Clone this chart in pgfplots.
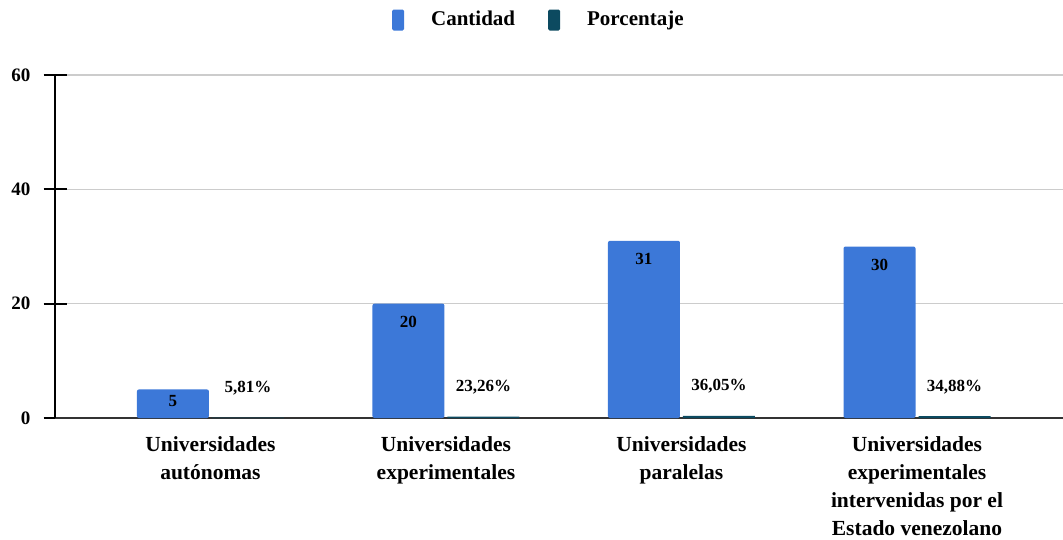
\documentclass[border=0pt]{standalone}
\usepackage{fontspec}
\setmainfont{Liberation Serif}
\usepackage{pgfplots}
\pgfplotsset{compat=1.18}
\definecolor{cant}{HTML}{3C78D8}
\definecolor{porc}{HTML}{0C4A60}
\definecolor{gridc}{HTML}{CCCCCC}
\definecolor{zeroc}{HTML}{333333}
\begin{document}
\begin{tikzpicture}
\path[use as bounding box] (0,0) rectangle (1063pt,539pt);
\begin{axis}[
  at={(55pt,121pt)}, anchor=south west,
  scale only axis, width=1008pt, height=343pt,
  xmin=-0.66, xmax=3.62, ymin=0, ymax=60,
  ytick={0,20,40,60},
  xtick={0,1,2,3},
  xticklabels={{Universidades\\autónomas},{Universidades\\experimentales},{Universidades\\paralelas},{Universidades\\experimentales\\intervenidas por el\\Estado venezolano}},
  /pgf/number format/assume math mode=true,
  axis x line=bottom, axis y line=left,
  x axis line style={-, zeroc, line width=2pt},
  y axis line style={-, black, line width=2pt},
  major tick length=23pt, tick align=center,
  ytick style={black, line width=2pt},
  xtick style={draw=none},
  ymajorgrids, grid style={gridc, line width=1.5pt},
  yticklabel style={font=\fontsize{19}{19}\selectfont\bfseries, anchor=east, inner sep=0pt, xshift=-13pt},
  xticklabel style={font=\fontsize{21.5}{28}\selectfont\bfseries, align=center, anchor=north, inner sep=0pt, yshift=-7pt},
  legend columns=2,
  legend image code/.code={\fill[#1, rounded corners=1.5pt] (0pt,-12pt) rectangle (12pt,9pt);},
  legend style={at={(axis description cs:0.479,1)}, anchor=center, yshift=55pt, draw=none, fill=none,
    font=\fontsize{21}{21}\selectfont\bfseries, nodes={inner sep=0pt},
    /tikz/every odd column/.append style={column sep=27pt},
    /tikz/every even column/.append style={column sep=33pt}},
]
\addplot[ybar, fill=cant, draw=none, bar width=72pt, bar shift=-37.5pt, rounded corners=2pt,
  nodes near coords,
  every node near coord/.append style={font=\fontsize{17}{17}\selectfont\bfseries, anchor=north, inner sep=0pt, xshift=-37.5pt, yshift=-12pt, rounded corners=0pt},
  coordinate style/.condition={\coordindex==0}{yshift=6pt}]
  coordinates {(0,5) (1,20) (2,31) (3,30)};
\addplot[ybar, fill=porc, draw=none, bar width=72pt, bar shift=37.5pt,
  point meta=explicit symbolic, nodes near coords,
  every node near coord/.append style={font=\fontsize{17}{17}\selectfont\bfseries, anchor=base, inner sep=0pt, xshift=37.5pt, yshift=25pt}]
  coordinates {(0,0.0581) [5,81\%] (1,0.2326) [23,26\%] (2,0.3605) [36,05\%] (3,0.3488) [34,88\%]};
\legend{Cantidad, Porcentaje}
\end{axis}
\end{tikzpicture}
\end{document}
